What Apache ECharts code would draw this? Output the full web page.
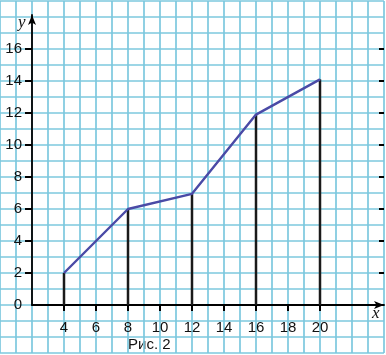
<!DOCTYPE html>
<html><head><meta charset="utf-8">
<script src="https://cdn.jsdelivr.net/npm/echarts@6/dist/echarts.min.js"></script>
<style>html,body{margin:0;padding:0;background:#fff}#c{width:386px;height:355px}</style>
</head><body><div id="c"></div>
<script>
var xValues = [4, 8, 12, 16, 20];
var yValues = [2, 6, 6.95, 11.9, 14.1];
var xTickLabels = [4, 6, 8, 10, 12, 14, 16, 18, 20];
var yTickLabels = [0, 2, 4, 6, 8, 10, 12, 14, 16];
var yTicks = [2, 4, 6, 8, 10, 12, 14, 16];
var caption = 'Рис. 2';

var pts = xValues.map(function (x, i) { return [x, yValues[i]]; });
var chart = echarts.init(document.getElementById('c'), null, {renderer: 'canvas'});
var gridColor = '#7cc8de';
var font = 'Liberation Sans, Arial, sans-serif';
chart.setOption({
  animation: false,
  grid: [
    {left: 0, right: 2, top: 1, bottom: 2},
    {left: 32, right: 2, top: 15, bottom: 50}
  ],
  xAxis: [
    {gridIndex: 0, type: 'value', min: 0, max: 24, interval: 1,
     axisLine: {show: false}, axisTick: {show: false}, axisLabel: {show: false},
     splitLine: {show: true, lineStyle: {color: gridColor, width: 1.7}}},
    {gridIndex: 1, type: 'value', min: 2, max: 24, interval: 2,
     axisLine: {show: true, onZero: false, symbol: ['none', 'arrow'], symbolSize: [6, 10],
       lineStyle: {color: '#000', width: 1.8}},
     axisTick: {show: true, customValues: xTickLabels, length: 6, lineStyle: {color: '#000', width: 2}},
     axisLabel: {show: true, customValues: xTickLabels, margin: 15, fontSize: 15, color: '#111', fontFamily: font},
     splitLine: {show: false}},
    {gridIndex: 1, type: 'value', min: 2, max: 24, interval: 2,
     axisLine: {show: false},
     axisTick: {show: true, inside: true, customValues: xTickLabels, length: 5, lineStyle: {color: '#000', width: 2}},
     axisLabel: {show: false}, splitLine: {show: false}}
  ],
  yAxis: [
    {gridIndex: 0, type: 'value', min: -3, max: 19, interval: 1,
     axisLine: {show: false}, axisTick: {show: false}, axisLabel: {show: false},
     splitLine: {show: true, lineStyle: {color: gridColor, width: 1.7}}},
    {gridIndex: 1, type: 'value', min: 0, max: 18.125, interval: 2,
     axisLine: {show: true, onZero: false, symbol: ['none', 'arrow'], symbolSize: [6, 10],
       lineStyle: {color: '#000', width: 1.8}},
     axisTick: {show: true, customValues: yTicks, length: 7, lineStyle: {color: '#000', width: 2}},
     axisLabel: {show: true, customValues: yTickLabels, margin: 10, fontSize: 15, color: '#111', fontFamily: font},
     splitLine: {show: false}},
    {gridIndex: 1, type: 'value', min: 0, max: 18.125, interval: 2,
     axisLine: {show: false},
     axisTick: {show: true, inside: true, customValues: yTicks, length: 5, lineStyle: {color: '#000', width: 2}},
     axisLabel: {show: false}, splitLine: {show: false}}
  ],
  graphic: [
    {type: 'text', left: 18, top: 14, style: {text: 'y', font: 'italic 17px "Liberation Serif", serif', fill: '#111'}},
    {type: 'text', left: 372, top: 305, style: {text: 'x', font: 'italic 17px "Liberation Serif", serif', fill: '#111'}},
    {type: 'text', left: 128, top: 337, style: {text: caption, font: '15px "Liberation Sans", Arial, sans-serif', fill: '#111'}}
  ],
  series: [
    {type: 'bar', xAxisIndex: 1, yAxisIndex: 1, data: pts, barWidth: 2.5,
     itemStyle: {color: '#1a1a1a'}, z: 3},
    {type: 'line', xAxisIndex: 1, yAxisIndex: 1, data: pts, symbol: 'none',
     lineStyle: {color: '#4a4aa6', width: 2.4}, z: 4}
  ]
});
</script></body></html>
